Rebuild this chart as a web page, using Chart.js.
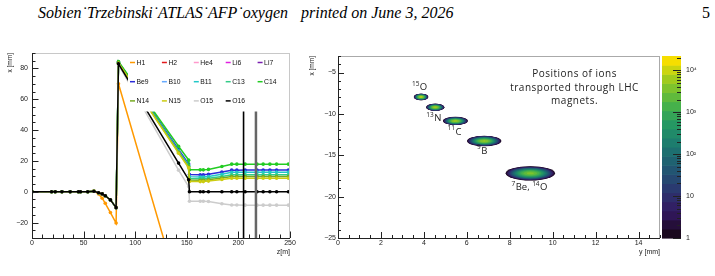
<!DOCTYPE html>
<html><head><meta charset="utf-8">
<script src="https://cdn.jsdelivr.net/npm/chart.js@4.4.1/dist/chart.umd.min.js"></script>
<style>
html,body{margin:0;padding:0;background:#fff}
body{width:715px;height:276px;position:relative;overflow:hidden}
.hd{position:absolute;top:3px;font-family:'Liberation Serif',serif;font-size:16px;font-style:italic;color:#000;white-space:nowrap;line-height:20px}
#c1{position:absolute;left:0;top:40px}
#c2{position:absolute;left:300px;top:40px}
</style></head><body>
<div class="hd" style="left:38px">Sobien˙Trzebinski˙ATLAS˙AFP˙oxygen</div>
<div class="hd" style="left:301px">printed on June 3, 2026</div>
<div class="hd" style="left:702px;font-style:normal">5</div>
<canvas id="c1" width="300" height="236"></canvas>
<canvas id="c2" width="415" height="236"></canvas>
<script>
// ---------------- LEFT CHART DATA ----------------
const seriesNames  = ['H1','H2','He4','Li6','Li7','Be9','B10','B11','C13','C14','N14','N15','O15','O16'];
const seriesColors = ['#ff9900','#e3191c','#ff99cc','#e020e0','#7a1fb0','#2b2bd9','#66aaff','#22c8c8','#33cc88','#22cc22','#77aa22','#cccc11','#cccccc','#000000'];
const zPos = [0,19,22.5,29,37,45,47,54,60,64.5,68,71,76,81.5,83.8,142,151.8,152.6,163,166,171,184,193.5,198.5,206.5,218,224,230.5,237,248.5];
const xH1  = [0,0,0,0,0,0,0,0,0.6,-1.5,-4.2,-7.5,-13.5,-20.3,70,-63.6];
const xH2  = [];
const xHe4 = [];
const xLi6 = [];
const xLi7 = [];
const xBe9 = [0,0,0,0,0,0,0,0,0.3,-0.6,-1.4,-2.6,-5.3,-10.3,84.2,27.5,18.0,11.2,11.0,11.0,11.3,12.8,14.0,14.0,14.1,14.1,14.1,14.1,14.1,14.1];
const xB10 = [];
const xB11 = [0,0,0,0,0,0,0,0,0.3,-0.6,-1.4,-2.6,-5.3,-10.3,84.0,26.5,17.0,9.8,9.6,9.6,9.9,11.4,12.6,12.6,12.7,12.7,12.7,12.7,12.7,12.7];
const xC13 = [0,0,0,0,0,0,0,0,0.3,-0.6,-1.4,-2.6,-5.3,-10.3,83.8,26.0,16.5,8.6,8.4,8.4,8.7,9.9,11.0,11.0,11.0,11.0,11.0,11.0,11.0,11.0];
const xC14 = [0,0,0,0,0,0,0,0,0.3,-0.6,-1.4,-2.6,-5.3,-10.3,84.5,29.5,20.5,14.2,14.2,14.2,14.5,16.4,17.9,17.9,17.9,17.9,17.9,17.9,17.9,17.9];
const xN14 = [0,0,0,0,0,0,0,0,0.3,-0.6,-1.4,-2.6,-5.3,-10.3,83.6,25.5,16.0,7.6,7.5,7.5,7.8,8.9,9.9,9.9,9.9,9.9,9.9,9.9,9.9,9.9];
const xN15 = [0,0,0,0,0,0,0,0,0.3,-0.6,-1.4,-2.6,-5.3,-10.3,83.4,25.0,15.5,6.7,6.6,6.6,6.9,8.0,8.8,8.8,8.8,8.8,8.8,8.8,8.8,8.8];
const xO15 = [0,0,0,0,0,0,0,0,0.3,-0.6,-1.4,-2.6,-5.3,-10.3,82.5,14.0,3.4,-6.2,-6.2,-6.2,-6.3,-7.8,-8.6,-8.6,-8.7,-8.7,-8.7,-8.7,-8.7,-8.7];
const xO16 = [0,0,0,0,0,0,0,0,0.3,-0.6,-1.4,-2.6,-5.3,-10.3,83.0,18.6,7.8,0,0,0,0,0,0,0,0,0,0,0,0,0];
const seriesValues = [xH1,xH2,xHe4,xLi6,xLi7,xBe9,xB10,xB11,xC13,xC14,xN14,xN15,xO15,xO16];
const detZ = [205, 217, 250];
const detColors = ['#000000','#666666','#999999'];
const leftXTicks = [0,50,100,150,200,250];
const leftYTicks = [-20,0,20,40,60,80];

// ---------------- RIGHT CHART DATA ----------------
const blobNames = ['15O','13N','11C','9B','7Be/14O'];
const blobX     = [3.87, 4.53, 5.47, 6.81, 8.96];
const blobY     = [-7.95, -9.2, -10.85, -13.27, -17.18];
const blobHalfW = [0.34, 0.43, 0.58, 0.80, 1.15];
const blobHalfH = [0.40, 0.44, 0.50, 0.63, 0.86];
const blobPeak  = [9000, 7500, 6000, 5000, 3500];
const annText = ['^{15}O','^{13}N','^{11}C','^{9}B','^{7}Be, ^{14}O'];
const annX    = [3.8, 4.46, 5.43, 6.72, 8.92];
const annY    = [-6.74, -10.49, -12.1, -14.4, -18.83];
const infoLines = ['Positions of ions','transported through LHC','magnets.'];
const infoX = 11.02, infoY = -5.24;
const rightXTicks = [0,2,4,6,8,10,12,14];
const rightYTicks = [-25,-20,-15,-10,-5];
const cbTicks = [1,10,100,1000,10000];
const cbTickLabels = ['1','10','10²','10³','10⁴'];
const zMin = 1, zMax = 22000;
const viridisStops = ['#1a091e','#331860','#2b3770','#215772','#1c7670','#239665','#4ab448','#90c823','#f6de00'];
const nBands = 20;

// ---------------- helpers ----------------
const TF = "'Liberation Sans', Arial, sans-serif";
function hex2rgb(h){return [parseInt(h.substr(1,2),16),parseInt(h.substr(3,2),16),parseInt(h.substr(5,2),16)];}
function palette(t){
  t=Math.max(0,Math.min(1,t)); const n=viridisStops.length-1; const p=t*n; const i=Math.min(n-1,Math.floor(p)); const f=p-i;
  const a=hex2rgb(viridisStops[i]), b=hex2rgb(viridisStops[i+1]);
  return 'rgb('+a.map((v,k)=>Math.round(v+(b[k]-v)*f)).join(',')+')';
}
function rangeStep(a,b,s){const r=[];for(let v=a;v<=b+1e-9;v+=s)r.push(+v.toFixed(6));return r;}
function drawInTicks(ctx,a,xs,ys,xMaj,xMin,yMaj,yMin,L,l){
  ctx.save(); ctx.strokeStyle='#222'; ctx.lineWidth=1; ctx.beginPath();
  const xt=(list,len)=>{for(const v of list){const p=Math.round(xs.getPixelForValue(v))+0.5;ctx.moveTo(p,a.bottom);ctx.lineTo(p,a.bottom-len);}};
  const yt=(list,len)=>{for(const v of list){const p=Math.round(ys.getPixelForValue(v))+0.5;ctx.moveTo(a.left,p);ctx.lineTo(a.left+len,p);}};
  xt(xMin,l); xt(xMaj,L); yt(yMin,l); yt(yMaj,L);
  ctx.stroke(); ctx.restore();
}
function drawFrame(ctx,a,light){
  ctx.save(); ctx.lineWidth=1;
  ctx.strokeStyle=light; ctx.beginPath();
  ctx.moveTo(a.left,a.top+0.5); ctx.lineTo(a.right,a.top+0.5);
  ctx.moveTo(a.right-0.5,a.top); ctx.lineTo(a.right-0.5,a.bottom); ctx.stroke();
  ctx.strokeStyle='#222'; ctx.beginPath();
  ctx.moveTo(a.left+0.5,a.top); ctx.lineTo(a.left+0.5,a.bottom+0.5);
  ctx.lineTo(a.right,a.bottom+0.5); ctx.stroke();
  ctx.restore();
}
function drawRich(ctx,txt,x,y,size,sup,fam){
  const parts=[]; let re=/\^\{([^}]*)\}/g, last=0, m;
  while((m=re.exec(txt))){ if(m.index>last)parts.push([txt.slice(last,m.index),false]); parts.push([m[1],true]); last=re.lastIndex; }
  if(last<txt.length)parts.push([txt.slice(last),false]);
  const fN=size+'px '+fam, fS=sup+'px '+fam;
  let w=0; for(const [t,s] of parts){ctx.font=s?fS:fN; w+=ctx.measureText(t).width+(s?0.5:0);}
  let cx=x-w/2; ctx.textBaseline='alphabetic'; ctx.textAlign='left';
  for(const [t,s] of parts){ctx.font=s?fS:fN; ctx.fillText(t,cx,s?y+size*0.35-size*0.45:y+size*0.35); cx+=ctx.measureText(t).width+(s?0.5:0);}
}

// ---------------- LEFT CHART ----------------
const leftDatasets = seriesNames.map((n,i)=>({
  label:n,
  data: seriesValues[i].map((v,k)=>({x:zPos[k],y:v})),
  borderColor: seriesColors[i], backgroundColor: seriesColors[i],
  pointBackgroundColor: seriesColors[i], pointBorderWidth:0, pointRadius:1.8,
  borderWidth:1.5, showLine:true, tension:0, order: seriesNames.length - i + 1
}));
detZ.forEach((z,i)=>leftDatasets.push({
  label:'det'+i, data:[{x:z,y:-30},{x:z,y:90}], borderColor:detColors[i], borderWidth: i===1?2.5:1.6,
  pointRadius:0, showLine:true, order:0
}));

const leftPlugin = {
  id:'leftDeco',
  afterDatasetsDraw(chart){
    const {ctx, chartArea:a} = chart;
    ctx.save();
    const lx = a.left+96, ly = a.top+0.5;
    ctx.fillStyle='#fff'; ctx.fillRect(lx, ly, a.right-lx, 58);
    ctx.font='6.8px '+TF; ctx.textBaseline='middle'; ctx.textAlign='left';
    seriesNames.forEach((n,i)=>{
      const col=i%5, row=Math.floor(i/5);
      const x=a.left+98+col*31.9, y=a.top+9.5+row*19.2;
      ctx.strokeStyle=seriesColors[i]; ctx.lineWidth=1.5;
      ctx.beginPath(); ctx.moveTo(x,y); ctx.lineTo(x+5,y); ctx.stroke();
      ctx.fillStyle='#111'; ctx.fillText(n, x+6.5, y+0.5);
    });
    ctx.restore();
  },
  afterDraw(chart){
    const {ctx, chartArea:a, scales} = chart;
    drawFrame(ctx,a,'#c8c8c8');
    drawInTicks(ctx,a,scales.x,scales.y,leftXTicks,rangeStep(0,250,10),leftYTicks,rangeStep(-30,90,5),6.5,3.5);
  }
};

new Chart(document.getElementById('c1'),{
  type:'scatter',
  data:{datasets:leftDatasets},
  options:{
    responsive:false, animation:false, devicePixelRatio:1,
    layout:{padding:{top:13,right:10,left:0,bottom:0}},
    plugins:{legend:{display:false},tooltip:{enabled:false}},
    scales:{
      x:{type:'linear',min:0,max:250,
        grid:{display:false,drawTicks:false}, border:{display:false},
        afterBuildTicks:s=>{s.ticks=leftXTicks.map(v=>({value:v}));},
        afterFit:s=>{s.height=38;},
        ticks:{font:{family:TF,size:7},color:'#222',padding:1,maxRotation:0,autoSkip:false},
        title:{display:true,text:'z[m]',align:'end',font:{family:TF,size:7},color:'#222',padding:{top:0,bottom:19.8}}
      },
      y:{type:'linear',min:-30,max:90,
        grid:{display:false,drawTicks:false}, border:{display:false},
        afterBuildTicks:s=>{s.ticks=leftYTicks.map(v=>({value:v}));},
        afterFit:s=>{s.width=32;},
        ticks:{font:{family:TF,size:7},color:'#222',padding:4,callback:v=>String(v).replace('-','\u2212')},
        title:{display:true,text:'x [mm]',align:'end',font:{family:TF,size:6.5},color:'#222',padding:{top:6.6,bottom:0}}
      }
    }
  },
  plugins:[leftPlugin]
});

// ---------------- RIGHT CHART ----------------
const rightPlugin = {
  id:'rightDeco',
  beforeDatasetsDraw(chart){
    const {ctx, chartArea:a, scales:{x:xs,y:ys}} = chart;
    ctx.save();
    ctx.beginPath(); ctx.rect(a.left,a.top,a.right-a.left,a.bottom-a.top); ctx.clip();
    const lmax=Math.log(zMax);
    blobX.forEach((bx,i)=>{
      const cx=xs.getPixelForValue(bx), cy=ys.getPixelForValue(blobY[i]);
      const rx=Math.abs(xs.getPixelForValue(bx+blobHalfW[i])-cx);
      const ry=Math.abs(ys.getPixelForValue(blobY[i]+blobHalfH[i])-cy);
      const lp=Math.log(blobPeak[i]);
      for(let k=0;k<nBands;k++){
        const ll=k/nBands*lmax; if(ll>lp)break;
        const f=Math.sqrt(1-ll/lp);
        ctx.fillStyle=palette(k/(nBands-1));
        ctx.beginPath(); ctx.ellipse(cx,cy,Math.max(0.6,rx*f),Math.max(0.6,ry*f),0,0,Math.PI*2); ctx.fill();
      }
    });
    ctx.restore();
  },
  afterDraw(chart){
    const {ctx, chartArea:a, scales:{x:xs,y:ys,z:zs}} = chart;
    ctx.save();
    ctx.fillStyle='#222';
    annText.forEach((t,i)=>drawRich(ctx,t,xs.getPixelForValue(annX[i]),ys.getPixelForValue(annY[i]),9.5,6.5,"'Open Sans', Lato, sans-serif"));
    ctx.font="10px 'Open Sans', Lato, sans-serif"; ctx.textAlign='center'; ctx.textBaseline='middle';
    if('letterSpacing' in ctx) ctx.letterSpacing='0.5px';
    infoLines.forEach((t,i)=>ctx.fillText(t, xs.getPixelForValue(infoX), ys.getPixelForValue(infoY)+i*13.4));
    if('letterSpacing' in ctx) ctx.letterSpacing='0px';
    const x0=a.right+2, w=19;
    for(let k=0;k<nBands;k++){
      const lo=Math.pow(zMax,k/nBands), hi=Math.pow(zMax,(k+1)/nBands);
      const y1=zs.getPixelForValue(lo), y2=zs.getPixelForValue(hi);
      ctx.fillStyle=palette(k/(nBands-1)); ctx.fillRect(x0,y2,w,y1-y2+0.6);
    }
    ctx.strokeStyle='#222'; ctx.lineWidth=1; ctx.beginPath();
    for(let d=1; d<=zMax; d*=10){
      for(let m=1;m<=9;m++){ const v=d*m; if(v>zMax)break;
        const p=Math.round(zs.getPixelForValue(v))+0.5, len=(m===1)?8:4;
        ctx.moveTo(x0+w,p); ctx.lineTo(x0+w-len,p);
      }
    }
    ctx.stroke();
    ctx.restore();
    drawFrame(ctx,a,'#aaaaaa');
    drawInTicks(ctx,a,xs,ys,rightXTicks,rangeStep(0,15,0.5),rightYTicks,rangeStep(-25,-3,1),6,3);
  }
};

new Chart(document.getElementById('c2'),{
  type:'scatter',
  data:{datasets:[{label:'ion spots',data:blobX.map((x,i)=>({x:x,y:blobY[i]})),pointRadius:0,showLine:false}]},
  options:{
    responsive:false, animation:false, devicePixelRatio:1,
    layout:{padding:{top:16,right:0,left:0,bottom:0}},
    plugins:{legend:{display:false},tooltip:{enabled:false}},
    scales:{
      x:{type:'linear',min:0,max:15,
        grid:{display:false,drawTicks:false}, border:{display:false},
        afterBuildTicks:s=>{s.ticks=rightXTicks.map(v=>({value:v}));},
        afterFit:s=>{s.height=38;},
        ticks:{font:{family:TF,size:7},color:'#222',padding:1,maxRotation:0,autoSkip:false},
        title:{display:true,text:'y [mm]',align:'end',font:{family:TF,size:7},color:'#222',padding:{top:0,bottom:19.8}}
      },
      y:{type:'linear',min:-25,max:-3,
        grid:{display:false,drawTicks:false}, border:{display:false},
        afterBuildTicks:s=>{s.ticks=rightYTicks.map(v=>({value:v}));},
        afterFit:s=>{s.width=38;},
        ticks:{font:{family:TF,size:7},color:'#222',padding:2,callback:v=>String(v).replace('-','\u2212')},
        title:{display:true,text:'x [mm]',align:'end',font:{family:TF,size:6.5},color:'#222',padding:{top:8.6,bottom:0}}
      },
      z:{type:'logarithmic',position:'right',min:zMin,max:zMax,
        grid:{display:false,drawTicks:true,tickLength:24}, border:{display:false},
        afterBuildTicks:s=>{s.ticks=cbTicks.map(v=>({value:v}));},
        afterFit:s=>{s.width=55;},
        ticks:{font:{family:TF,size:7},color:'#222',padding:2,autoSkip:false,callback:(v,i)=>cbTickLabels[i]}
      }
    }
  },
  plugins:[rightPlugin]
});
</script>
</body></html>
